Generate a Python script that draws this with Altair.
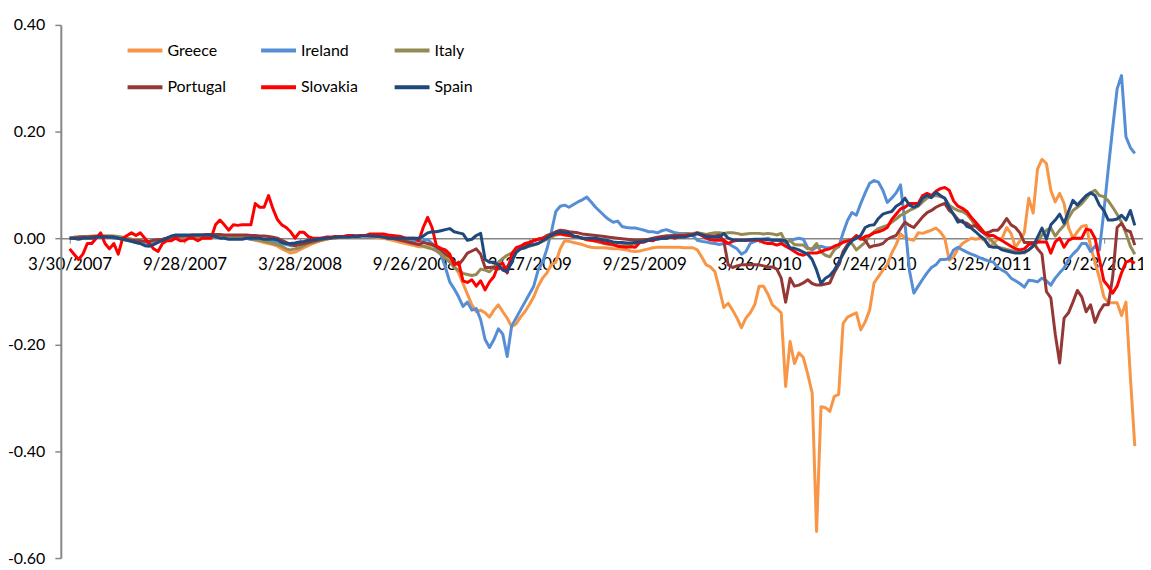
import altair as alt
import pandas as pd

countries = ["Greece", "Ireland", "Italy", "Portugal", "Slovakia", "Spain"]
colors = ["#F79646", "#558ED5", "#948A54", "#953735", "#FF0000", "#1F497D"]
start_date = "2007-03-30"
n_weeks = 242
tick_dates = ["2007-03-30", "2007-09-28", "2008-03-28", "2008-09-26", "2009-03-27",
              "2009-09-25", "2010-03-26", "2010-09-24", "2011-03-25", "2011-09-23"]
y_ticks = [-0.6, -0.4, -0.2, 0.0, 0.2, 0.4]

greece = [
    0.0, 0.0, 0.002, 0.003, 0.003, 0.004, 0.004, 0.004, 0.004, 0.004,
    0.003, 0.002, 0.0, -0.002, -0.004, -0.006, -0.008, -0.01, -0.01, -0.008,
    -0.005, -0.003, 0.0, 0.002, 0.003, 0.004, 0.004, 0.004, 0.004, 0.004,
    0.004, 0.004, 0.004, 0.004, 0.003, 0.003, 0.002, 0.002, 0.002, 0.001,
    0.0, -0.002, -0.004, -0.006, -0.008, -0.01, -0.012, -0.015, -0.02, -0.024,
    -0.028, -0.026, -0.022, -0.018, -0.014, -0.01, -0.007, -0.004, -0.002, 0.0,
    0.0, 0.002, 0.002, 0.003, 0.004, 0.004, 0.004, 0.004, 0.003, 0.002,
    0.001, 0.0, -0.002, -0.004, -0.006, -0.008, -0.01, -0.012, -0.014, -0.016,
    -0.016, -0.015, -0.014, -0.015, -0.02, -0.03, -0.04, -0.052, -0.065, -0.085,
    -0.105, -0.125, -0.138, -0.135, -0.14, -0.148, -0.135, -0.125, -0.138, -0.15,
    -0.166, -0.161, -0.148, -0.138, -0.125, -0.11, -0.09, -0.075, -0.065, -0.05,
    -0.045, -0.02, -0.005, -0.006, -0.008, -0.01, -0.012, -0.015, -0.017, -0.018,
    -0.018, -0.018, -0.019, -0.02, -0.02, -0.021, -0.022, -0.024, -0.025, -0.024,
    -0.022, -0.02, -0.018, -0.017, -0.017, -0.017, -0.017, -0.017, -0.017, -0.018,
    -0.018, -0.018, -0.022, -0.035, -0.05, -0.054, -0.063, -0.095, -0.13, -0.122,
    -0.135, -0.15, -0.168, -0.15, -0.14, -0.125, -0.09, -0.09, -0.105, -0.125,
    -0.132, -0.14, -0.278, -0.194, -0.235, -0.215, -0.224, -0.255, -0.29, -0.55,
    -0.316, -0.318, -0.325, -0.297, -0.293, -0.16, -0.148, -0.144, -0.14, -0.172,
    -0.157, -0.135, -0.084, -0.072, -0.06, -0.05, -0.028, -0.012, 0.008, 0.0,
    -0.002, -0.004, 0.01, 0.009, 0.012, 0.015, 0.019, 0.012, 0.0, -0.041,
    -0.035, -0.02, -0.01, -0.005, 0.0, -0.002, 0.0, -0.004, -0.015, -0.01,
    -0.002, 0.0, 0.02, 0.009, -0.017, -0.005, 0.01, 0.075, 0.047, 0.13,
    0.148, 0.14, 0.09, 0.068, 0.084, 0.065, 0.02, 0.0, 0.012, 0.022,
    0.024, -0.015, -0.045, -0.075, -0.11, -0.121, -0.121, -0.121, -0.145, -0.12,
    -0.26, -0.39,
]

ireland = [
    0.0, 0.0, 0.0, 0.002, 0.002, 0.002, 0.002, 0.002, 0.002, 0.002,
    0.0, 0.0, -0.002, -0.004, -0.006, -0.008, -0.01, -0.012, -0.012, -0.01,
    -0.006, -0.003, 0.0, 0.003, 0.004, 0.005, 0.005, 0.005, 0.005, 0.005,
    0.005, 0.005, 0.004, 0.003, 0.002, 0.002, 0.001, 0.0, 0.0, 0.0,
    0.0, -0.002, -0.003, -0.004, -0.005, -0.006, -0.007, -0.008, -0.01, -0.012,
    -0.014, -0.014, -0.012, -0.01, -0.008, -0.006, -0.004, -0.002, 0.0, 0.0,
    0.002, 0.002, 0.003, 0.003, 0.004, 0.004, 0.005, 0.005, 0.005, 0.004,
    0.004, 0.003, 0.002, 0.001, 0.0, -0.002, -0.003, -0.004, -0.005, -0.005,
    -0.005, -0.002, -0.01, -0.02, -0.03, -0.054, -0.082, -0.095, -0.11, -0.128,
    -0.12, -0.135, -0.132, -0.153, -0.19, -0.205, -0.19, -0.17, -0.18, -0.222,
    -0.165, -0.15, -0.135, -0.12, -0.105, -0.09, -0.06, -0.045, -0.02, 0.012,
    0.05, 0.06, 0.062, 0.058, 0.063, 0.068, 0.072, 0.077, 0.068, 0.058,
    0.05, 0.042, 0.035, 0.03, 0.032, 0.022, 0.02, 0.019, 0.019, 0.017,
    0.015, 0.012, 0.012, 0.01, 0.014, 0.016, 0.013, 0.01, 0.009, 0.009,
    0.009, 0.005, -0.004, -0.006, -0.007, -0.009, -0.01, -0.012, -0.01, -0.01,
    -0.015, -0.02, -0.03, -0.025, -0.01, -0.006, -0.004, -0.002, 0.0, -0.004,
    -0.004, -0.006, -0.009, -0.004, -0.002, 0.0, -0.002, -0.018, -0.022, -0.017,
    -0.015, -0.018, -0.018, -0.018, -0.016, 0.01, 0.033, 0.048, 0.043, 0.065,
    0.085, 0.103, 0.108, 0.105, 0.09, 0.067, 0.075, 0.085, 0.1, 0.028,
    -0.06, -0.103, -0.09, -0.077, -0.065, -0.055, -0.05, -0.04, -0.04, -0.038,
    -0.022, -0.017, -0.022, -0.026, -0.03, -0.033, -0.037, -0.04, -0.043, -0.045,
    -0.055, -0.06, -0.065, -0.075, -0.08, -0.085, -0.092, -0.079, -0.08, -0.082,
    -0.075, -0.08, -0.088, -0.075, -0.065, -0.056, -0.04, -0.03, -0.022, -0.01,
    -0.01, -0.025, -0.015, -0.022, 0.05, 0.13, 0.207, 0.28, 0.305, 0.19,
    0.17, 0.159,
]

italy = [
    0.0, 0.002, 0.002, 0.003, 0.003, 0.003, 0.004, 0.004, 0.004, 0.004,
    0.004, 0.003, 0.002, 0.0, -0.002, -0.004, -0.005, -0.006, -0.006, -0.005,
    -0.004, -0.003, -0.002, 0.0, 0.002, 0.003, 0.003, 0.003, 0.003, 0.003,
    0.003, 0.003, 0.003, 0.003, 0.003, 0.003, 0.002, 0.002, 0.002, 0.002,
    0.002, 0.0, -0.002, -0.004, -0.006, -0.008, -0.01, -0.012, -0.015, -0.02,
    -0.022, -0.02, -0.018, -0.014, -0.01, -0.008, -0.006, -0.004, -0.002, 0.0,
    0.0, 0.002, 0.002, 0.003, 0.004, 0.004, 0.005, 0.005, 0.005, 0.004,
    0.004, 0.003, 0.002, 0.0, -0.002, -0.004, -0.006, -0.008, -0.01, -0.012,
    -0.015, -0.018, -0.02, -0.024, -0.03, -0.038, -0.045, -0.055, -0.06, -0.066,
    -0.068, -0.07, -0.068, -0.058, -0.06, -0.063, -0.055, -0.045, -0.038, -0.032,
    -0.028, -0.022, -0.02, -0.018, -0.015, -0.013, -0.01, -0.006, -0.002, 0.002,
    0.006, 0.008, 0.008, 0.006, 0.004, 0.002, 0.0, -0.002, -0.004, -0.006,
    -0.008, -0.01, -0.012, -0.013, -0.014, -0.014, -0.013, -0.012, -0.01, -0.008,
    -0.006, -0.004, -0.002, 0.0, 0.002, 0.004, 0.005, 0.006, 0.006, 0.007,
    0.008, 0.009, 0.01, 0.009, 0.007, 0.009, 0.01, 0.01, 0.009, 0.01,
    0.01, 0.009, 0.007, 0.008, 0.009, 0.009, 0.009, 0.008, 0.009, 0.008,
    0.006, 0.009, -0.008, -0.004, -0.012, -0.013, -0.013, -0.02, -0.02, -0.01,
    -0.026, -0.032, -0.035, -0.022, -0.015, -0.005, -0.005, -0.01, -0.022, -0.015,
    -0.008, 0.005, 0.012, 0.018, 0.021, 0.024, 0.03, 0.036, 0.043, 0.047,
    0.052, 0.056, 0.06, 0.068, 0.075, 0.078, 0.08, 0.078, 0.075, 0.062,
    0.056, 0.052, 0.05, 0.045, 0.035, 0.022, 0.015, 0.008, 0.0, -0.008,
    -0.017, -0.019, -0.021, -0.023, -0.025, -0.027, -0.028, -0.022, -0.015, -0.008,
    0.006, 0.015, 0.019, 0.004, 0.015, 0.024, 0.038, 0.052, 0.058, 0.065,
    0.075, 0.085, 0.09, 0.08, 0.078, 0.07, 0.058, 0.045, 0.03, 0.009,
    -0.015, -0.03,
]

portugal = [
    0.0, 0.0, 0.002, 0.002, 0.002, 0.003, 0.003, 0.003, 0.003, 0.002,
    0.002, 0.0, -0.002, -0.003, -0.004, -0.005, -0.005, -0.006, -0.006, -0.004,
    -0.003, -0.002, 0.0, 0.002, 0.003, 0.004, 0.005, 0.005, 0.006, 0.006,
    0.006, 0.007, 0.007, 0.007, 0.007, 0.006, 0.006, 0.006, 0.006, 0.006,
    0.006, 0.005, 0.005, 0.004, 0.004, 0.003, 0.002, 0.0, -0.004, -0.008,
    -0.012, -0.014, -0.012, -0.01, -0.008, -0.006, -0.004, -0.002, 0.0, 0.0,
    0.002, 0.002, 0.003, 0.004, 0.004, 0.004, 0.005, 0.005, 0.005, 0.004,
    0.003, 0.002, 0.001, 0.0, -0.002, -0.004, -0.006, -0.008, -0.01, -0.012,
    -0.008, -0.01, -0.012, -0.016, -0.022, -0.03, -0.035, -0.045, -0.05, -0.04,
    -0.028, -0.024, -0.02, -0.03, -0.055, -0.055, -0.054, -0.056, -0.056, -0.054,
    -0.04, -0.025, -0.02, -0.015, -0.01, -0.005, -0.002, 0.0, 0.005, 0.008,
    0.012, 0.015, 0.014, 0.012, 0.011, 0.01, 0.008, 0.007, 0.006, 0.005,
    0.004, 0.003, 0.002, 0.001, 0.0, -0.001, -0.002, -0.003, -0.004, -0.004,
    -0.003, -0.002, 0.0, 0.002, 0.003, 0.004, 0.004, 0.005, 0.005, 0.005,
    0.006, 0.007, 0.008, 0.006, 0.005, 0.004, 0.004, 0.006, -0.005, -0.05,
    -0.055, -0.052, -0.05, -0.05, -0.05, -0.05, -0.05, -0.052, -0.054, -0.054,
    -0.058, -0.075, -0.12, -0.075, -0.09, -0.088, -0.084, -0.078, -0.085, -0.088,
    -0.088, -0.086, -0.084, -0.065, -0.05, -0.025, -0.012, -0.004, 0.004, 0.0,
    -0.004, -0.017, -0.014, -0.013, -0.01, -0.002, 0.002, 0.005, 0.018, 0.03,
    0.024, 0.02, 0.03, 0.04, 0.048, 0.052, 0.058, 0.062, 0.065, 0.052,
    0.045, 0.035, 0.03, 0.028, 0.022, 0.024, 0.015, 0.009, 0.011, 0.015,
    0.015, 0.024, 0.037, 0.025, 0.02, 0.01, -0.008, -0.008, -0.008, -0.02,
    -0.03, -0.1, -0.112, -0.18, -0.234, -0.15, -0.14, -0.12, -0.098, -0.11,
    -0.138, -0.125, -0.158, -0.138, -0.125, -0.125, -0.073, 0.02, 0.028, 0.015,
    0.012, -0.013,
]

slovakia = [
    -0.02, -0.03, -0.04, -0.03, -0.01, -0.01, 0.0, 0.01, -0.01, -0.02,
    -0.01, -0.03, 0.0, 0.005, 0.01, 0.005, 0.01, 0.0, -0.01, -0.02,
    -0.025, -0.01, -0.005, -0.005, 0.0, -0.005, -0.005, 0.0, 0.0, -0.005,
    0.0, 0.0, 0.0, 0.025, 0.034, 0.025, 0.015, 0.025, 0.024, 0.025,
    0.025, 0.025, 0.065, 0.058, 0.058, 0.08, 0.055, 0.035, 0.025, 0.02,
    0.012, 0.0, 0.011, 0.011, 0.003, 0.0, 0.0, 0.0, 0.002, 0.002,
    0.003, 0.003, 0.003, 0.005, 0.005, 0.003, 0.005, 0.005, 0.008, 0.008,
    0.008, 0.008, 0.006, 0.005, 0.004, 0.003, 0.0, 0.0, 0.0, -0.005,
    0.02, 0.039, 0.02, -0.015, -0.019, -0.022, -0.03, -0.05, -0.045, -0.08,
    -0.083, -0.078, -0.09, -0.08, -0.097, -0.082, -0.072, -0.05, -0.047, -0.065,
    -0.03, -0.018, -0.015, -0.01, -0.008, -0.004, -0.002, 0.0, 0.002, 0.005,
    0.008, 0.008, 0.006, 0.005, 0.003, 0.003, 0.0, -0.003, -0.004, -0.005,
    -0.006, -0.009, -0.01, -0.012, -0.015, -0.016, -0.017, -0.016, -0.017, -0.008,
    -0.007, -0.004, -0.005, 0.0, 0.0, 0.0, 0.002, 0.0, 0.004, 0.004,
    0.006, 0.006, 0.01, 0.005, 0.0, -0.003, -0.004, -0.004, -0.004, -0.01,
    -0.006, -0.004, -0.004, -0.004, -0.004, -0.004, -0.004, -0.008, -0.01, -0.01,
    -0.013, -0.01, -0.015, -0.02, -0.025, -0.03, -0.032, -0.028, -0.028, -0.028,
    -0.025, -0.022, -0.02, -0.015, -0.012, -0.008, -0.005, -0.003, 0.005, -0.002,
    0.003, 0.005, 0.01, 0.012, 0.015, 0.02, 0.035, 0.045, 0.055, 0.058,
    0.065, 0.065, 0.065, 0.08, 0.084, 0.08, 0.088, 0.093, 0.095, 0.09,
    0.07, 0.06, 0.056, 0.05, 0.039, 0.03, 0.02, 0.01, 0.005, 0.005,
    0.0, -0.005, -0.01, -0.015, -0.02, -0.022, -0.02, -0.012, -0.01, -0.007,
    -0.007, -0.007, -0.028, -0.007, 0.0, -0.017, -0.004, 0.0, 0.0, 0.0,
    0.017, 0.015, 0.0, -0.04, -0.08, -0.09, -0.103, -0.09, -0.065, -0.045,
    -0.042, -0.047,
]

spain = [
    0.0, 0.0, -0.002, 0.0, 0.0, 0.0, 0.002, 0.002, 0.002, 0.002,
    0.002, 0.0, -0.002, -0.004, -0.006, -0.008, -0.01, -0.014, -0.015, -0.012,
    -0.008, -0.004, 0.0, 0.004, 0.006, 0.006, 0.006, 0.006, 0.006, 0.006,
    0.006, 0.006, 0.006, 0.003, 0.0, 0.0, -0.002, -0.002, -0.002, -0.002,
    0.0, 0.0, 0.0, 0.0, -0.002, -0.002, -0.002, -0.003, -0.008, -0.01,
    -0.01, -0.009, -0.007, -0.006, -0.004, -0.003, -0.002, 0.0, 0.0, 0.001,
    0.002, 0.002, 0.002, 0.002, 0.003, 0.003, 0.004, 0.004, 0.004, 0.004,
    0.003, 0.002, 0.0, 0.0, 0.0, 0.0, 0.0, 0.0, 0.0, 0.0,
    0.004, 0.01, 0.012, 0.012, 0.014, 0.016, 0.018, 0.012, 0.01, 0.008,
    -0.004, -0.002, 0.005, 0.009, -0.04, -0.045, -0.045, -0.05, -0.06, -0.063,
    -0.045, -0.027, -0.02, -0.018, -0.014, -0.012, -0.01, -0.005, 0.0, 0.006,
    0.01, 0.012, 0.01, 0.01, 0.004, 0.002, 0.0, 0.0, 0.0, 0.0,
    -0.002, -0.004, -0.005, -0.007, -0.008, -0.008, -0.009, -0.009, -0.008, -0.007,
    -0.006, -0.004, -0.002, -0.002, 0.0, 0.0, 0.002, 0.002, 0.002, 0.002,
    0.004, 0.006, 0.009, 0.007, 0.002, 0.002, 0.002, 0.002, 0.009, 0.0,
    -0.003, -0.004, -0.004, -0.004, -0.003, -0.002, -0.002, -0.002, -0.003, -0.004,
    -0.004, -0.004, -0.005, -0.018, -0.019, -0.022, -0.026, -0.03, -0.04, -0.06,
    -0.085, -0.075, -0.07, -0.06, -0.045, -0.03, -0.015, -0.005, 0.0, 0.005,
    0.02, 0.024, 0.025, 0.037, 0.045, 0.048, 0.05, 0.06, 0.065, 0.075,
    0.062, 0.058, 0.062, 0.075, 0.08, 0.076, 0.086, 0.08, 0.075, 0.058,
    0.045, 0.03, 0.033, 0.022, 0.019, 0.012, 0.004, -0.002, -0.015, -0.017,
    -0.017, -0.022, -0.024, -0.026, -0.028, -0.028, -0.026, -0.022, -0.015, 0.002,
    0.019, -0.002, 0.025, 0.034, 0.045, 0.028, 0.05, 0.071, 0.062, 0.071,
    0.08, 0.085, 0.08, 0.062, 0.052, 0.034, 0.034, 0.036, 0.043, 0.034,
    0.052, 0.024,
]

series = [greece, ireland, italy, portugal, slovakia, spain]
dates = pd.date_range(start_date, periods=n_weeks, freq="7D").strftime("%Y-%m-%d").tolist()

rows = []
for name, vals in zip(countries, series):
    assert len(vals) == n_weeks, (name, len(vals))
    for d, v in zip(dates, vals):
        rows.append({"date": d, "country": name, "value": v})
df = pd.DataFrame(rows)


def dt(s):
    y, m, d = (int(p) for p in s.split("-"))
    return alt.DateTime(year=y, month=m, date=d, utc=True)


FONT = "Lato"
GRAY = "#868686"

x = alt.X(
    "date:T",
    scale=alt.Scale(type="utc", domain=[dt("2007-03-16"), dt("2011-11-24")], nice=False),
    axis=alt.Axis(
        title=None,
        values=[dt(s) for s in tick_dates],
        labelExpr="utcFormat(datum.value, '%-m/%-d/%Y')",
        offset=-321,
        domainColor=GRAY,
        domainWidth=1.5,
        tickColor=GRAY,
        tickSize=5,
        tickWidth=1,
        labelFont=FONT,
        labelFontSize=17,
        labelColor="black",
        labelPadding=13,
        labelOverlap=False,
        labelFlush=False,
        grid=False,
        zindex=0,
    ),
)

y = alt.Y(
    "value:Q",
    scale=alt.Scale(domain=[-0.6, 0.4], nice=False, zero=False),
    axis=alt.Axis(
        title=None,
        values=y_ticks,
        labelExpr="(datum.value < -0.0001 ? '-' : '') + format(abs(datum.value), '.2f')",
        domainColor=GRAY,
        domainWidth=2,
        tickColor=GRAY,
        tickSize=6,
        tickWidth=1.5,
        labelFont=FONT,
        labelFontSize=16,
        labelColor="black",
        labelPadding=10,
        grid=False,
        zindex=0,
    ),
)

color = alt.Color(
    "country:N",
    scale=alt.Scale(domain=countries, range=colors),
    sort=countries,
    legend=alt.Legend(
        title=None,
        orient="none",
        legendX=65,
        legendY=6,
        columns=3,
        direction="horizontal",
        symbolType="stroke",
        symbolStrokeWidth=4,
        symbolSize=1225,
        labelFont=FONT,
        labelFontSize=16,
        labelColor="black",
        labelOffset=3,
        columnPadding=27,
        rowPadding=9,
        gridAlign="all",
        padding=0,
    ),
)

chart = (
    alt.Chart(df)
    .mark_line(strokeWidth=3, strokeJoin="round")
    .encode(x=x, y=y, color=color)
    .properties(
        width=1086,
        height=535,
        autosize=alt.AutoSizeParams(type="none"),
        padding={"left": 53, "top": 16, "right": 0, "bottom": 10},
        background="white",
    )
    .configure_view(stroke=None)
)

chart.save("out.html", embed_options={"renderer": "svg", "actions": False})
